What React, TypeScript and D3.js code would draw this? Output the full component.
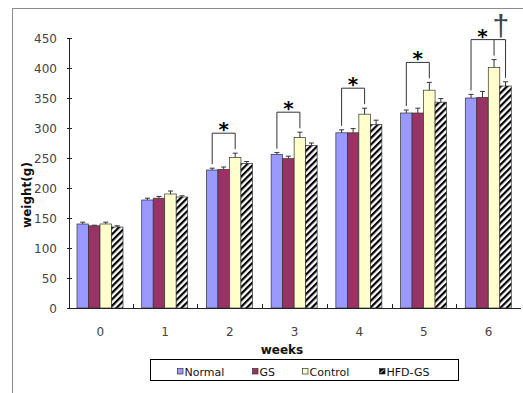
import React from 'react'
import * as d3 from 'd3'

// weeks on the x axis
const weeks = ['0', '1', '2', '3', '4', '5', '6']
const seriesNames = ['Normal', 'GS', 'Control', 'HFD-GS']

// mean body weight (g) per group
const normal = [140, 180, 230, 256, 292, 325, 350]
const gs = [137, 183, 231, 249, 292, 325, 351]
const control = [140, 190, 251, 284, 323, 363, 401]
const hfdGs = [135, 185, 241, 271, 306, 343, 370]

// error (SE) per group
const normalErr = [3, 3, 3, 3, 5, 5, 6]
const gsErr = [1, 3, 4, 4, 7, 8, 10]
const controlErr = [3, 5, 7, 9, 10, 13, 13]
const hfdGsErr = [2, 2, 3, 4, 7, 6, 7]

const yTicks = [0, 50, 100, 150, 200, 250, 300, 350, 400, 450]

// weeks where Normal vs Control is significant (*) and Control vs HFD-GS (†)
const starWeeks = ['2', '3', '4', '5', '6']
const daggerWeeks = ['6']

const values = [normal, gs, control, hfdGs]
const errors = [normalErr, gsErr, controlErr, hfdGsErr]
const fills = ['#9999ff', '#993366', '#ffffcc', 'url(#hatch)']

const W = 523
const H = 393
const font = '"DejaVu Sans", sans-serif'

export default function App() {
  const y = d3.scaleLinear().domain([0, 450]).range([308, 38])
  const x0 = d3.scaleBand().domain(weeks).range([68, 521])
  const x1 = d3.scaleBand().domain(seriesNames).range([9, 55])
  const bw = x1.bandwidth()
  const cx = (w: string, s: number) => (x0(w) as number) + (x1(seriesNames[s]) as number) + bw / 2
  const errTop = (s: number, i: number) => y(values[s][i] + errors[s][i])

  const brackets = starWeeks.map(w => {
    const i = weeks.indexOf(w)
    const dag = daggerWeeks.includes(w)
    const legs = dag ? [0, 2, 3] : [0, 2]
    const top = Math.min(...legs.map(s => errTop(s, i))) - 20
    return { w, i, dag, legs, top }
  })

  const legendX = [177, 252, 302, 379]

  return (
    <svg width={W} height={H} style={{ position: 'absolute', left: 0, top: 0, background: '#fff' }}>
      <defs>
        <pattern id="hatch" patternUnits="userSpaceOnUse" width="4.6" height="4.6" patternTransform="rotate(45)">
          <rect width="4.6" height="4.6" fill="#fff" />
          <rect width="2.2" height="4.6" fill="#000" />
        </pattern>
      </defs>

      {/* outer frame */}
      <rect x={12.5} y={8.5} width={530} height={400} fill="none" stroke="#8c8c8c" />

      {/* y axis */}
      <line x1={69.5} x2={69.5} y1={y(450)} y2={y(0)} stroke="#222" />
      {yTicks.map(t => (
        <g key={t}>
          <line x1={67} x2={72} y1={Math.round(y(t)) + 0.5} y2={Math.round(y(t)) + 0.5} stroke="#222" />
          <text x={57} y={y(t) + 4.5} textAnchor="end" fontSize={12} fontFamily={font} fill="#444">{t}</text>
        </g>
      ))}
      <text transform={`translate(31,${(y(450) + y(0)) / 2 + 22}) rotate(-90)`} textAnchor="middle" fontSize={12}
        fontWeight="bold" fontFamily={font} fill="#111">weight(g)</text>

      {/* bars */}
      {weeks.map((w, i) => (
        <g key={w}>
          {values.map((v, s) => (
            <g key={s}>
              <rect x={(x0(w) as number) + (x1(seriesNames[s]) as number)} y={y(v[i])} width={bw} height={y(0) - y(v[i])}
                fill={fills[s]} stroke="#333" strokeWidth={0.7} />
              <line x1={cx(w, s)} x2={cx(w, s)} y1={y(v[i])} y2={errTop(s, i)} stroke="#333" />
              <line x1={cx(w, s) - 2.5} x2={cx(w, s) + 2.5} y1={errTop(s, i)} y2={errTop(s, i)} stroke="#333" />
            </g>
          ))}
        </g>
      ))}

      {/* x axis */}
      <line x1={69.5} x2={521} y1={308.5} y2={308.5} stroke="#222" />
      {weeks.slice(1).map(w => (
        <line key={w} x1={Math.round(x0(w) as number) + 0.5} x2={Math.round(x0(w) as number) + 0.5} y1={304} y2={308}
          stroke="#222" />
      ))}
      {weeks.map(w => (
        <text key={w} x={(x0(w) as number) + x0.bandwidth() / 2} y={336} textAnchor="middle" fontSize={12}
          fontFamily={font} fill="#444">{w}</text>
      ))}
      <text x={282} y={354} textAnchor="middle" fontSize={12} fontWeight="bold" fontFamily={font} fill="#111">weeks</text>

      {/* significance brackets */}
      {brackets.map(b => {
        const xs = b.legs.map(s => cx(b.w, s))
        return (
          <g key={b.w} stroke="#333" fill="none">
            <line x1={xs[0]} x2={xs[xs.length - 1]} y1={b.top} y2={b.top} />
            {b.legs.map((s, k) => (
              <line key={s} x1={xs[k]} x2={xs[k]} y1={b.top} y2={errTop(s, b.i) - 4} />
            ))}
            <text x={(xs[0] + xs[1]) / 2} y={b.top + 3} textAnchor="middle" fontSize={20} fontWeight="bold"
              fontFamily={font} fill="#000" stroke="none">*</text>
            {b.dag && (
              <text x={(xs[1] + xs[2]) / 2 + 1} y={b.top - 4} textAnchor="middle" fontSize={30}
                fontFamily='"Liberation Sans", sans-serif' fill="#444" stroke="none">†</text>
            )}
          </g>
        )
      })}

      {/* legend */}
      <rect x={150.5} y={359.5} width={308} height={21} fill="#fff" stroke="#000" />
      {seriesNames.map((n, s) => (
        <g key={n}>
          <rect x={legendX[s] + 0.5} y={368.5} width={5.5} height={5.5} fill={s === 3 ? '#000' : fills[s]} stroke="#333"
            strokeWidth={0.7} />
          {s === 3 && <line x1={legendX[s] + 1.5} y1={373} x2={legendX[s] + 5} y2={369.5} stroke="#fff" strokeWidth={1} />}
          <text x={legendX[s] + 7.5} y={376} fontSize={11} fontFamily={font} fill="#111">{n}</text>
        </g>
      ))}
    </svg>
  )
}
